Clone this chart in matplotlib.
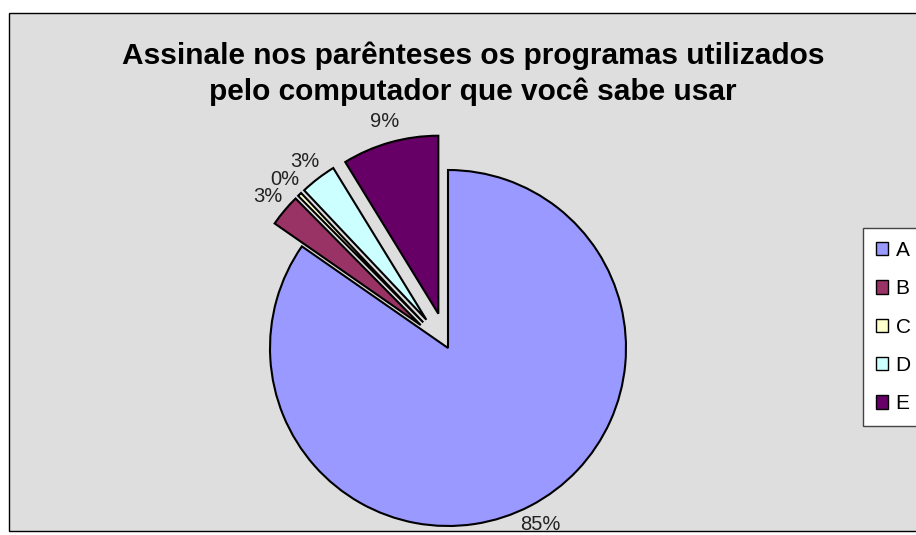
import matplotlib.pyplot as plt
from matplotlib.patches import Rectangle, Patch

plt.rcParams['font.family'] = ['Liberation Sans', 'DejaVu Sans']

categories = ['A', 'B', 'C', 'D', 'E']
values = [232, 8, 1, 9, 24]
colors = ['#9999FF', '#993366', '#FFFFCC', '#CCFFFF', '#660066']
explode = [0, 0.2, 0.2, 0.2, 0.2]
title = 'Assinale nos parênteses os programas utilizados\npelo computador que você sabe usar'

W, H = 916, 535
fig = plt.figure(figsize=(W / 100, H / 100), dpi=100)
fig.patch.set_facecolor('white')

# background axes holding the chart-area box (runs off the right edge)
bg = fig.add_axes([0, 0, 1, 1], zorder=0)
bg.set_xlim(0, W)
bg.set_ylim(H, 0)
bg.axis('off')
bg.add_patch(Rectangle((9, 13), W, 531 - 13, facecolor='#dedede',
                       edgecolor='black', linewidth=1))

# pie axes: centre (448, 348) px, radius 178 px
R = 178
cx, cy = 448, 348
size = 3 * R
ax = fig.add_axes([(cx - size / 2) / W, (H - cy - size / 2) / H, size / W, size / H], zorder=1)

wedges, texts, autotexts = ax.pie(values, explode=explode, colors=colors, startangle=90,
                                  counterclock=False, radius=1, autopct='%1.0f%%',
                                  pctdistance=1.12,
                                  wedgeprops=dict(edgecolor='black', linewidth=1.5),
                                  textprops=dict(fontsize=14.5, color='#222222'))
ax.set_xlim(-1.5, 1.5)
ax.set_ylim(-1.5, 1.5)
ax.set_aspect('equal')
ax.axis('off')
for w in wedges:
    w.set_clip_on(False)
for t in autotexts:
    t.set_clip_on(False)

fig.text(473 / W, 1 - 74 / H, title, ha='center', va='center', fontsize=21.5,
         fontweight='bold', linespacing=1.35, zorder=3)

handles = [Patch(facecolor=c, edgecolor='black', linewidth=1) for c in colors]
leg = fig.legend(handles, categories, loc='upper left',
                 bbox_to_anchor=(863 / W, 1 - 228 / H), fontsize=15,
                 handlelength=0.6, handleheight=0.6, handletextpad=0.35,
                 labelspacing=0.93, borderpad=0.62, borderaxespad=0,
                 fancybox=False, framealpha=1, edgecolor='#444444')
leg.get_frame().set_linewidth(1)
leg.set_zorder(4)

plt.savefig('out.png', dpi=100)
